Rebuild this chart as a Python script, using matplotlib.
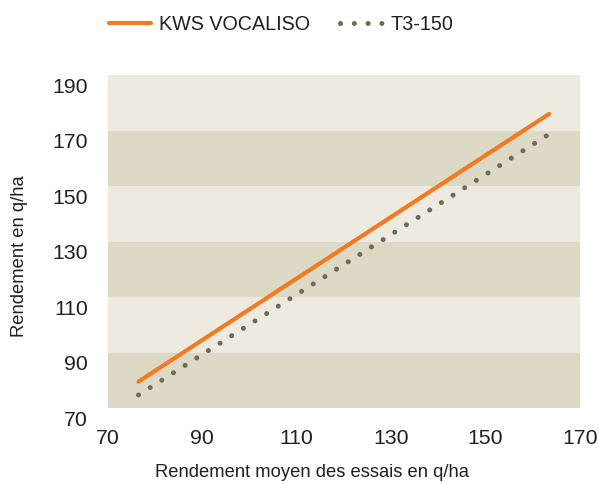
import numpy as np
import matplotlib as mpl, matplotlib.pyplot as plt
from matplotlib.transforms import ScaledTranslation

# ---- data ----
x_ends = [76.5, 163.5]
kws_vocaliso = [79.5, 176.0]
t3_150 = [74.7, 168.7]
xticks = [70, 90, 110, 130, 150, 170]
yticks = [70, 90, 110, 130, 150, 170, 190]

ORANGE = "#F47A22"; DOTS = "#6B6C5A"
LIGHT = "#EDEBE0"; DARK = "#DCDAC4"; TXT = "#231F20"

mpl.rcParams.update({"font.family": ["Liberation Sans", "DejaVu Sans"], "font.size": 14})

fig = plt.figure(figsize=(5.99, 4.84), dpi=100)
ax = fig.add_axes([0.180, 0.157, 0.788, 0.688])

# alternating bands
for i, (lo, hi) in enumerate(zip(yticks[:-1], yticks[1:])):
    ax.axhspan(lo, hi, color=DARK if i % 2 == 0 else LIGHT, lw=0, zorder=0)

ax.plot(x_ends, kws_vocaliso, color=ORANGE, lw=3.0, solid_capstyle="round", zorder=3, label="KWS VOCALISO")
ax.plot(x_ends, t3_150, color=DOTS, lw=3.6, dashes=(0.01, 2.75), dash_capstyle="round", zorder=3, label="T3-150")

ax.set_xlim(70, 170); ax.set_ylim(70, 190)
ax.set_xticks(xticks); ax.set_yticks(yticks)
for s in ax.spines.values(): s.set_visible(False)
ax.tick_params(length=0, labelsize=15.3, colors=TXT)
ax.tick_params(axis="x", pad=15)
ax.tick_params(axis="y", pad=14.5)
off = ScaledTranslation(0, -7.2 / 72, fig.dpi_scale_trans)
for lb in ax.get_yticklabels(): lb.set_transform(lb.get_transform() + off)

ax.set_xlabel("Rendement moyen des essais en q/ha", fontsize=13.2, color=TXT, va="center")
ax.set_ylabel("Rendement en q/ha", fontsize=13.2, color=TXT, va="center")
ax.xaxis.set_label_coords(0.432, -0.195)
ax.yaxis.set_label_coords(-0.187, 0.456)

fig.legend(loc="upper left", bbox_to_anchor=(0.152, 1.005), ncol=2, frameon=False,
           fontsize=14.2, handlelength=2.15, handletextpad=0.38, columnspacing=1.55,
           labelcolor=TXT)

fig.savefig("out.png", dpi=100)
